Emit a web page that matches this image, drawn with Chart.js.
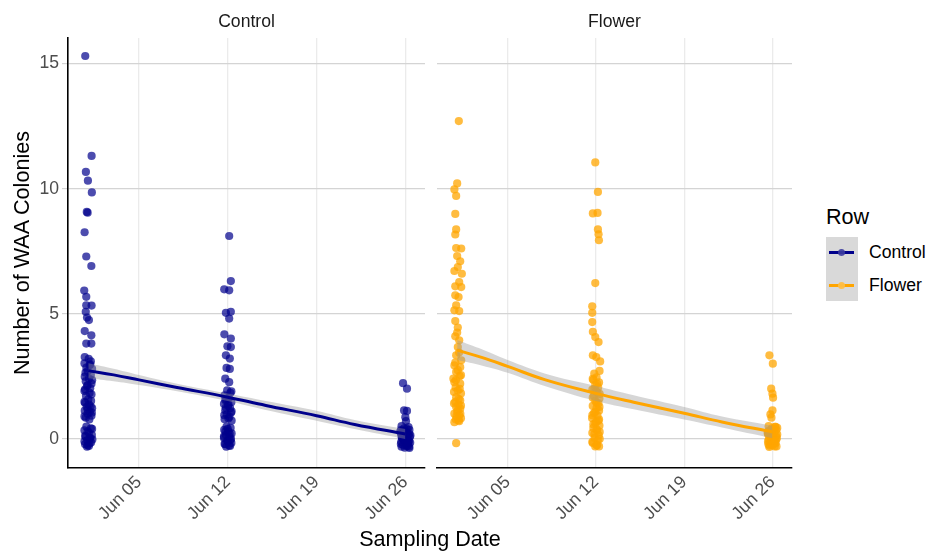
<!DOCTYPE html>
<html>
<head>
<meta charset="utf-8">
<script src="https://cdn.jsdelivr.net/npm/chart.js@4/dist/chart.umd.min.js"></script>
<style>
  body { margin: 0; background: #fff; font-family: "Liberation Sans", Arial, sans-serif; }
  #wrap { position: relative; width: 927px; height: 552px; overflow: hidden; }
  canvas { position: absolute; top: 0; }
  .txt { position: absolute; white-space: nowrap; }
  .strip { font-size: 17.6px; line-height: 18px; color: #1a1a1a; text-align: center; top: 12px; }
  .title { font-size: 21.6px; line-height: 22px; color: #000; }
  .key { position: absolute; }
</style>
</head>
<body>
<div id="wrap">
  <canvas id="leftChart" width="430" height="552" style="left:0"></canvas>
  <canvas id="rightChart" width="378" height="552" style="left:432px"></canvas>

  <div class="txt strip" style="left:68px;width:357px">Control</div>
  <div class="txt strip" style="left:437px;width:355px">Flower</div>
  <div class="txt title" style="left:280px;width:300px;text-align:center;top:528px">Sampling Date</div>
  <div class="txt title" style="left:-128px;width:300px;text-align:center;top:242px;transform:rotate(-90deg)">Number of WAA Colonies</div>

  <!-- legend -->
  <div class="txt title" style="left:826px;top:206px">Row</div>
  <div class="key" style="left:826px;top:237px;width:32px;height:64px;background:#d9d9d9"></div>
  <div class="key" style="left:829px;top:251px;width:25px;height:3px;background:#00008b"></div>
  <div class="key" style="left:838px;top:249px;width:7px;height:7px;border-radius:50%;background:rgba(60,60,160,0.9)"></div>
  <div class="key" style="left:829px;top:284px;width:25px;height:3px;background:#ffa500"></div>
  <div class="key" style="left:838px;top:282px;width:7px;height:7px;border-radius:50%;background:rgba(255,190,70,0.95)"></div>
  <div class="txt strip" style="left:869px;top:243px;text-align:left;color:#000">Control</div>
  <div class="txt strip" style="left:869px;top:276px;text-align:left;color:#000">Flower</div>
</div>

<script>
// sampling dates (day of June) and axis ticks
const samplingDays = [1, 12, 26];
const tickDays = [5, 12, 19, 26];
const tickLabels = ['Jun 05', 'Jun 12', 'Jun 19', 'Jun 26'];
const yTicks = [0, 5, 10, 15];

// Control row: colonies per sample, with the horizontal jitter (days)
const controlJun01 = [15.30, 11.31, 10.67, 10.32, 9.85, 9.07, 9.04, 8.26, 7.29, 6.91, 5.93, 5.68, 5.34, 5.33, 5.08, 4.85, 4.75, 4.31, 4.14, 3.81, 3.81, 3.27, 3.20, 3.10, 3.02, 2.95, 2.85, 2.80, 2.71, 2.56, 2.49, 2.41, 2.31, 2.21, 2.11, 2.03, 1.92, 1.84, 1.72, 1.52, 1.44, 1.37, 1.28, 1.23, 1.13, 1.08, 1.01, 0.93, 0.85, 0.78, 0.49, 0.42, 0.34, 0.24, 0.16, 0.09, 0.02, -0.06, -0.14, -0.21, -0.28, -0.31,
    2.98, 2.65, 2.35, 2.15, 1.98, 1.78, 1.58, 1.48, 1.30, 1.18, 1.05, 0.90, 0.40, 0.30, 0.12, 0.05, -0.02, -0.10, -0.18, -0.25];
const controlJun01Jit = [-0.24, 0.26, -0.19, -0.03, 0.28, -0.12, -0.05, -0.29, -0.16, 0.24, -0.32, -0.16, -0.16, 0.26, -0.2, -0.1, 0.05, -0.28, 0.24, -0.16, 0.24, -0.28, 0.03, 0.2, -0.3, 0.1, -0.15, 0.3, -0.05, 0.2, -0.28, 0.05, -0.2, 0.25, -0.1, 0.15, -0.3, 0.1, -0.18, 0.22, -0.25, 0.05, -0.12, 0.3, -0.28, 0.12, -0.05, 0.25, -0.2, 0.08, -0.15, 0.2, -0.3, 0.05, 0.28, -0.2, 0.15, -0.08, 0.22, -0.25, 0.05, -0.1,
    0.15, -0.22, 0.3, -0.05, -0.25, 0.25, 0.0, -0.3, 0.18, -0.05, 0.28, -0.3, 0.3, -0.05, -0.25, 0.1, 0.32, -0.3, 0.1, -0.05];

const controlJun12 = [8.11, 6.31, 5.98, 5.94, 5.08, 5.04, 4.81, 4.18, 4.01, 3.70, 3.67, 3.34, 3.21, 2.84, 2.80, 2.41, 2.27, 1.94, 1.84, 1.74, 1.64, 1.57, 1.47, 1.40, 1.32, 1.23, 1.15, 1.05, 0.98, 0.88, 0.79, 0.73, 0.49, 0.44, 0.36, 0.29, 0.22, 0.16, 0.09, 0.04, -0.04, -0.08, -0.16, -0.21, -0.26, -0.31,
    1.90, 1.55, 1.38, 1.25, 1.10, 0.95, 0.82, 0.40, 0.30, 0.20, 0.10, 0.00, -0.10, -0.20, -0.28];
const controlJun12Jit = [0.11, 0.24, -0.28, 0.11, 0.24, -0.15, 0.11, -0.27, 0.24, -0.03, 0.24, -0.15, 0.16, -0.1, 0.16, -0.2, 0.11, -0.05, 0.2, -0.25, 0.08, -0.12, 0.28, -0.3, 0.02, 0.18, -0.2, 0.25, -0.08, 0.12, -0.25, 0.3, -0.1, 0.22, -0.28, 0.05, 0.3, -0.15, 0.12, -0.3, 0.2, -0.05, 0.28, -0.2, 0.1, -0.12,
    0.28, -0.2, 0.05, -0.15, 0.3, -0.28, 0.05, 0.0, -0.18, 0.15, -0.3, 0.25, 0.02, -0.25, 0.18];

const controlJun26 = [2.23, 2.01, 1.14, 1.12, 0.87, 0.71, 0.51, 0.47, 0.42, 0.36, 0.32, 0.26, 0.22, 0.17, 0.12, 0.08, 0.04, 0.00, -0.04, -0.08, -0.12, -0.16, -0.20, -0.24, -0.28, -0.31, -0.31, -0.06, 0.14, 0.29,
    0.40, 0.30, 0.20, 0.10, 0.02, -0.05, -0.12, -0.20, -0.28, -0.35, -0.36, 0.35, 0.25, -0.15, 0.05];
const controlJun26Jit = [-0.18, 0.13, -0.1, 0.13, 0.0, 0.05, -0.3, 0.25, -0.1, 0.32, -0.22, 0.1, -0.35, 0.2, -0.05, 0.35, -0.25, 0.15, -0.12, 0.28, -0.32, 0.05, 0.22, -0.18, 0.1, -0.3, 0.3, 0.0, 0.4, -0.4,
    0.1, -0.2, 0.3, -0.3, 0.12, -0.15, 0.25, -0.35, 0.18, -0.05, 0.32, -0.35, 0.0, 0.38, -0.25];

// Flower row
const flowerJun01 = [12.70, 10.21, 9.97, 9.71, 8.99, 8.37, 8.17, 7.63, 7.61, 7.31, 7.10, 6.87, 6.71, 6.60, 6.27, 6.10, 6.07, 5.74, 5.67, 5.34, 5.14, 5.11, 4.71, 4.25, 4.10, 3.94, 3.67, 3.34, 3.14, 2.94, 2.87, 2.68, 2.51, 2.41, 2.27, 2.21, 2.06, 1.94, 1.82, 1.67, 1.54, 1.42, 1.37, 1.28, 1.21, 1.08, 1.01, 0.94, 0.83, 0.78, 0.71, 0.67, -0.17,
    3.05, 2.75, 2.55, 2.35, 2.00, 1.88, 1.60, 1.48, 1.33, 1.15, 1.00, 0.90, 0.75, 3.45, 4.45];
const flowerJun01Jit = [0.13, 0.0, -0.22, -0.08, -0.15, -0.08, -0.15, -0.08, 0.32, 0.0, 0.24, 0.05, -0.22, 0.37, 0.16, -0.15, 0.32, -0.15, 0.11, -0.08, -0.22, 0.16, -0.15, 0.0, -0.15, 0.16, 0.05, -0.08, 0.32, -0.22, 0.24, -0.08, 0.2, -0.3, -0.22, 0.24, -0.12, 0.05, 0.3, -0.08, 0.24, -0.25, 0.1, -0.08, 0.24, 0.0, -0.22, 0.16, 0.3, -0.1, 0.16, -0.22, -0.08,
    -0.15, 0.05, 0.3, -0.1, 0.2, -0.25, 0.12, -0.15, 0.3, 0.05, 0.25, -0.05, 0.1, 0.15, 0.05];

const flowerJun12 = [11.05, 9.87, 9.03, 9.01, 8.37, 8.18, 7.94, 6.23, 5.30, 5.04, 4.67, 4.28, 4.07, 3.87, 3.34, 3.27, 3.10, 2.72, 2.61, 2.46, 2.36, 2.26, 2.16, 2.06, 1.97, 1.87, 1.72, 1.62, 1.52, 1.42, 1.32, 1.23, 1.13, 1.03, 0.93, 0.83, 0.73, 0.63, 0.53, 0.44, 0.34, 0.24, 0.14, 0.04, -0.06, -0.16, -0.25, -0.30,
    2.40, 2.20, 2.00, 1.80, 1.65, 1.45, 1.28, 1.08, 0.95, 0.78, 0.58, 0.38, 0.18, 0.00, -0.12, -0.25, -0.30, 0.28, 0.68, 1.90];
const flowerJun12Jit = [-0.05, 0.16, 0.13, -0.24, 0.16, 0.21, 0.24, -0.05, -0.29, -0.29, -0.29, -0.24, -0.05, 0.21, -0.24, 0.03, 0.34, 0.29, -0.13, 0.05, -0.2, 0.25, -0.05, 0.18, -0.28, 0.1, -0.15, 0.28, -0.05, 0.2, -0.25, 0.05, 0.25, -0.15, 0.12, -0.3, 0.2, -0.05, 0.28, -0.2, 0.1, -0.28, 0.22, -0.1, 0.15, -0.25, 0.05, 0.25,
    -0.25, 0.1, -0.12, 0.3, -0.25, 0.05, 0.28, -0.05, -0.28, 0.25, -0.2, 0.05, -0.12, 0.3, -0.28, 0.1, -0.05, 0.3, 0.02, 0.0];

const flowerJun26 = [3.34, 3.01, 2.01, 1.81, 1.65, 1.14, 0.98, 0.85, 0.51, 0.48, 0.42, 0.36, 0.30, 0.24, 0.19, 0.14, 0.09, 0.04, -0.01, -0.06, -0.11, -0.16, -0.21, -0.25, -0.30, -0.27, 0.44, 0.26,
    0.40, 0.32, 0.18, 0.06, -0.02, -0.10, -0.18, -0.24, -0.30, -0.32, 0.36, 0.22, 0.10, -0.08, 0.48];
const flowerJun26Jit = [-0.24, 0.03, -0.1, 0.0, 0.05, 0.0, -0.16, -0.08, -0.3, 0.2, -0.05, 0.3, -0.2, 0.12, -0.35, 0.28, -0.1, 0.35, -0.28, 0.08, -0.15, 0.25, -0.32, 0.0, 0.18, -0.22, 0.38, -0.38,
    0.1, -0.3, 0.38, -0.15, 0.3, -0.35, 0.15, -0.05, 0.32, -0.25, -0.08, -0.35, 0.05, 0.2, 0.25];

// loess fit, with half width of the grey band
const fitDays = [1, 3, 5, 8, 12, 15, 19, 22, 26];
const controlFit = [2.73, 2.56, 2.36, 2.06, 1.67, 1.34, 0.93, 0.58, 0.20];
const controlBand = [0.30, 0.25, 0.20, 0.15, 0.15, 0.18, 0.20, 0.18, 0.20];
const flowerFit = [3.55, 3.25, 2.90, 2.36, 1.82, 1.47, 1.03, 0.68, 0.28];
const flowerBand = [0.40, 0.32, 0.25, 0.25, 0.30, 0.28, 0.25, 0.22, 0.25];

function toPoints(day, values, jitter) {
    return values.map((v, i) => ({ x: day + jitter[i], y: v }));
}

function curve(values, band, sign) {
    return fitDays.map((d, i) => ({ x: d, y: values[i] + sign * band[i] }));
}

function makeDatasets(groups, fit, band, lineColor, pointColor) {
    let pts = [];
    groups.forEach((g, i) => { pts = pts.concat(toPoints(samplingDays[i], g[0], g[1])); });
    return [
        { data: pts, showLine: false, pointRadius: 4.1, pointHoverRadius: 4.1,
          backgroundColor: pointColor, borderWidth: 0, order: 3 },
        { data: curve(fit, band, -1), showLine: true, pointRadius: 0, borderWidth: 0,
          tension: 0.4, order: 2 },
        { data: curve(fit, band, 1), showLine: true, pointRadius: 0, borderWidth: 0,
          tension: 0.4, fill: '-1', backgroundColor: 'rgba(153,153,153,0.4)', order: 1 },
        { data: curve(fit, band, 0), showLine: true, pointRadius: 0, borderWidth: 3,
          borderColor: lineColor, tension: 0.4, order: 0 }
    ];
}

function createPanel(id, datasets, isLeft) {
    const ctx = document.getElementById(id).getContext('2d');
    return new Chart(ctx, {
        type: 'scatter',
        data: { datasets: datasets },
        options: {
            responsive: false,
            animation: false,
            events: [],
            layout: { padding: isLeft ? { top: 38, left: 0, right: 5, bottom: 0 } : { top: 38, left: 5, right: 18, bottom: 0 } },
            plugins: { legend: { display: false }, tooltip: { enabled: false } },
            scales: {
                x: {
                    type: 'linear',
                    min: -0.6,
                    max: 27.55,
                    afterBuildTicks: (scale) => { scale.ticks = tickDays.map(v => ({ value: v })); },
                    afterFit: (scale) => { scale.height = 84; scale.paddingLeft = 0; scale.paddingRight = 0; },
                    ticks: {
                        autoSkip: false,
                        maxRotation: 45,
                        minRotation: 45,
                        padding: 4,
                        color: '#4d4d4d',
                        font: { family: 'Liberation Sans', size: 17.6 },
                        callback: (v) => tickLabels[tickDays.indexOf(v)]
                    },
                    grid: { color: '#ebebeb', lineWidth: 1.3, drawTicks: false },
                    border: { display: true, color: '#000', width: 1.6 }
                },
                y: {
                    min: -1.16,
                    max: 16.02,
                    afterBuildTicks: (scale) => { scale.ticks = yTicks.map(v => ({ value: v })); },
                    afterFit: (scale) => { scale.width = isLeft ? 68 : 0; },
                    ticks: {
                        display: isLeft,
                        padding: 3,
                        color: '#4d4d4d',
                        font: { family: 'Liberation Sans', size: 17.6 }
                    },
                    grid: { color: '#d4d4d4', lineWidth: 1.2, drawTicks: isLeft, tickLength: 6, tickColor: '#d4d4d4' },
                    border: { display: isLeft, color: '#000', width: 1.6 }
                }
            }
        }
    });
}

const controlSets = makeDatasets(
    [[controlJun01, controlJun01Jit], [controlJun12, controlJun12Jit], [controlJun26, controlJun26Jit]],
    controlFit, controlBand, '#00008b', 'rgba(0,0,139,0.7)');
const flowerSets = makeDatasets(
    [[flowerJun01, flowerJun01Jit], [flowerJun12, flowerJun12Jit], [flowerJun26, flowerJun26Jit]],
    flowerFit, flowerBand, '#ffa500', 'rgba(255,165,0,0.75)');

let leftChart = createPanel('leftChart', controlSets, true);
let rightChart = createPanel('rightChart', flowerSets, false);
</script>
</body>
</html>
